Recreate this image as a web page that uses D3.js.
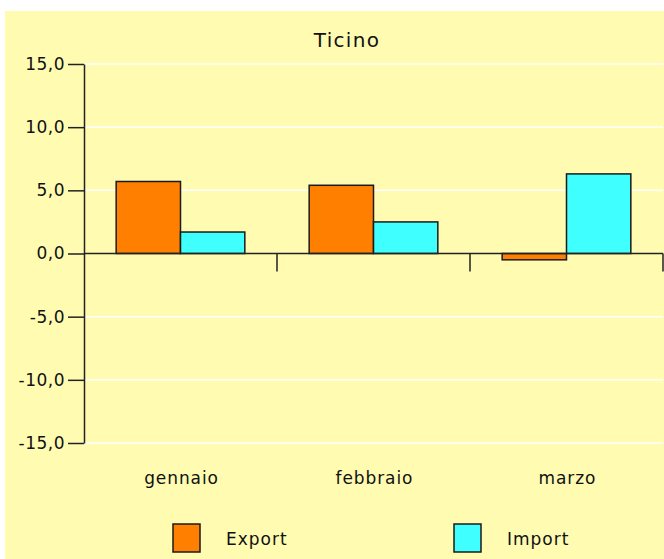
<!DOCTYPE html>
<html>
<head>
<meta charset="utf-8">
<script src="https://cdn.jsdelivr.net/npm/d3@7"></script>
<style>
  html, body { margin: 0; padding: 0; background: #ffffff; }
  svg { display: block; }
  text { font-family: "DejaVu Sans", sans-serif; fill: #111; }
</style>
</head>
<body>
<svg id="chart" width="664" height="559"></svg>
<script>
const title = "Ticino";
const categories = ["gennaio", "febbraio", "marzo"];
const seriesNames = ["Export", "Import"];
const exportValues = [5.7, 5.4, -0.5];
const importValues = [1.7, 2.5, 6.3];
const yTicks = [-15, -10, -5, 0, 5, 10, 15];
const colors = ["#FF8000", "#40FFFF"];

const seriesValues = [exportValues, importValues];
const data = categories.map((c, i) => ({
  cat: c,
  vals: seriesNames.map((s, j) => ({ s, v: seriesValues[j][i] }))
}));

const svg = d3.select("#chart");
const W = 664, H = 559;
const plot = { left: 84, right: 663, top: 64, bottom: 443 };

svg.append("rect").attr("x", 5).attr("y", 11).attr("width", W - 5).attr("height", H - 11)
  .attr("fill", "#FFFCB2");

const x = d3.scaleBand().domain(categories).range([plot.left, plot.right]).paddingInner(0).paddingOuter(0);
const x1 = d3.scaleBand().domain(seriesNames).range([0, x.bandwidth()]).paddingInner(0).paddingOuter(0.5);
const y = d3.scaleLinear().domain([-15, 15]).range([plot.bottom, plot.top]);

const loc = d3.formatLocale({ decimal: ",", thousands: ".", grouping: [3], currency: ["", "€"], minus: "-" });
const fmt = loc.format(".1f");

// gridlines
svg.append("g").selectAll("line").data(yTicks.filter(t => t !== 0)).join("line")
  .attr("x1", plot.left).attr("x2", plot.right)
  .attr("y1", d => y(d)).attr("y2", d => y(d))
  .attr("stroke", "#ffffff").attr("stroke-width", 1.5);

// bars
const groups = svg.append("g").selectAll("g").data(data).join("g")
  .attr("transform", d => `translate(${x(d.cat)},0)`);
groups.selectAll("rect").data(d => d.vals).join("rect")
  .attr("x", d => x1(d.s))
  .attr("width", x1.bandwidth())
  .attr("y", d => y(Math.max(0, d.v)))
  .attr("height", d => Math.abs(y(d.v) - y(0)))
  .attr("fill", (d, i) => colors[i])
  .attr("stroke", "#1a1a1a").attr("stroke-width", 1.5);

// y axis
const yAxis = d3.axisLeft(y).tickValues(yTicks).tickFormat(fmt).tickSize(16).tickSizeOuter(0).tickPadding(3);
const gy = svg.append("g").attr("transform", `translate(${plot.left},0)`).call(yAxis);
gy.selectAll("path, line").attr("stroke", "#222").attr("stroke-width", 1.5);
gy.selectAll("text").style("font-size", "17px").style("letter-spacing", "0.5px")
  .style("font-family", "DejaVu Sans, sans-serif").attr("fill", "#111");

// zero line
svg.append("line").attr("x1", plot.left).attr("x2", plot.right)
  .attr("y1", y(0)).attr("y2", y(0)).attr("stroke", "#222").attr("stroke-width", 1.5);

// category ticks
svg.append("g").selectAll("line").data(categories).join("line")
  .attr("x1", d => x(d) + x.bandwidth()).attr("x2", d => x(d) + x.bandwidth())
  .attr("y1", y(0)).attr("y2", y(0) + 18)
  .attr("stroke", "#222").attr("stroke-width", 1.5);

// category labels
svg.append("g").selectAll("text").data(categories).join("text")
  .attr("x", d => x(d) + x.bandwidth() / 2 + 1).attr("y", 484)
  .attr("text-anchor", "middle")
  .style("font-size", "17px").style("letter-spacing", "0.9px")
  .text(d => d);

// title
svg.append("text").attr("x", 347).attr("y", 47).attr("text-anchor", "middle")
  .style("font-size", "20px").style("letter-spacing", "1.3px").text(title);

// legend
const legendX = [173, 454];
const lg = svg.append("g").selectAll("g").data(seriesNames).join("g")
  .attr("transform", (d, i) => `translate(${legendX[i]},524)`);
lg.append("rect").attr("width", 27).attr("height", 28)
  .attr("fill", (d, i) => colors[i]).attr("stroke", "#1a1a1a").attr("stroke-width", 1.5);
lg.append("text").attr("x", 53).attr("y", 21)
  .style("font-size", "17px").style("letter-spacing", "1px").text(d => d);
</script>
</body>
</html>
